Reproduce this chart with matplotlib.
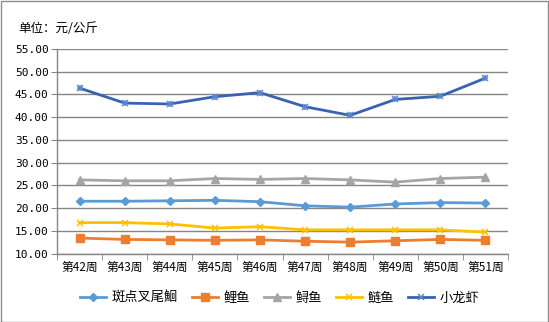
import matplotlib
matplotlib.use("Agg")
import matplotlib.pyplot as plt
from matplotlib.patches import Rectangle

plt.rcParams['font.family'] = ['Noto Sans CJK SC', 'DejaVu Sans']

weeks = ["第42周", "第43周", "第44周", "第45周", "第46周", "第47周", "第48周", "第49周", "第50周", "第51周"]
catfish = [21.5, 21.5, 21.6, 21.7, 21.4, 20.5, 20.2, 20.9, 21.2, 21.1]
carp = [13.4, 13.1, 13.0, 12.9, 13.0, 12.7, 12.5, 12.8, 13.1, 12.9]
sturgeon = [26.2, 26.0, 26.0, 26.5, 26.3, 26.5, 26.2, 25.7, 26.5, 26.8]
silver_carp = [16.8, 16.8, 16.5, 15.6, 15.9, 15.2, 15.2, 15.2, 15.2, 14.7]
crayfish = [46.4, 43.1, 42.9, 44.5, 45.4, 42.3, 40.4, 43.9, 44.6, 48.6]

names = ["斑点叉尾鮰", "鲤鱼", "鲟鱼", "鲢鱼", "小龙虾"]
series = [catfish, carp, sturgeon, silver_carp, crayfish]
colors = ["#5B9BD5", "#ED7D31", "#A5A5A5", "#FFC000", "#3A62B0"]
markers = ["D", "s", "^", "x", "x"]
msizes = [4.5, 5.5, 5.5, 5, 5]
yticks = [10, 15, 20, 25, 30, 35, 40, 45, 50, 55]

W, H = 549, 322
fig = plt.figure(figsize=(W / 100, H / 100), dpi=100)
fig.patches.append(Rectangle((0.5 / W, 0.5 / H), 1 - 1.5 / W, 1 - 1.5 / H, transform=fig.transFigure,
                             fill=False, edgecolor="#8C8C8C", linewidth=1.0))

ax = fig.add_axes([57 / W, 1 - 253.5 / H, (508 - 57) / W, (253.5 - 49) / H])
x = list(range(len(weeks)))
for name, vals, c, m, ms in zip(names, series, colors, markers, msizes):
    if name == "小龙虾":
        ax.plot(x, vals, color=c, linewidth=2.0, marker=m, markersize=ms,
                markeredgecolor="#5B85D0", markerfacecolor="#5B85D0", markeredgewidth=1.1, label=name)
        ax.plot(x, vals, color="none", marker="+", markersize=ms, markeredgecolor="#5B85D0",
                markeredgewidth=1.1)
    elif m == "x":
        ax.plot(x, vals, color=c, linewidth=2.0, marker=m, markersize=ms,
                markeredgecolor=c, markeredgewidth=1.1, label=name)
    else:
        ax.plot(x, vals, color=c, linewidth=2.0, marker=m, markersize=ms,
                markeredgecolor=c, markerfacecolor=c, label=name)

ax.set_xlim(-0.5, len(weeks) - 0.5)
ax.set_ylim(10, 55)
ax.set_yticks(yticks)
ax.set_yticklabels([f"{v:.2f}" for v in yticks], fontsize=8, family=['DejaVu Sans Mono', 'DejaVu Sans'])
ax.set_xticks(x)
ax.set_xticklabels(weeks, fontsize=8.5)
ax.set_xticks([i - 0.5 for i in range(len(weeks) + 1)], minor=True)
ax.tick_params(axis='x', which='major', length=0, pad=5)
ax.tick_params(axis='x', which='minor', length=4, color="#868686", direction='out')
ax.tick_params(axis='y', length=4, color="#868686", direction='out', pad=2)
ax.grid(axis='y', color="#868686", linewidth=1.0)
ax.set_axisbelow(True)
for s in ["top", "right"]:
    ax.spines[s].set_visible(False)
for s in ["left", "bottom"]:
    ax.spines[s].set_color("#868686")
    ax.spines[s].set_linewidth(1.0)

fig.text(18 / W, 1 - 28 / H, "单位：元/公斤", fontsize=9, ha='left', va='center')

fig.legend(loc='center', bbox_to_anchor=(279.5 / W, 1 - 298 / H), ncol=5, frameon=False,
           fontsize=9.5, handlelength=2.0, columnspacing=1.05, handletextpad=0.4)

fig.savefig("out.png", dpi=100)
